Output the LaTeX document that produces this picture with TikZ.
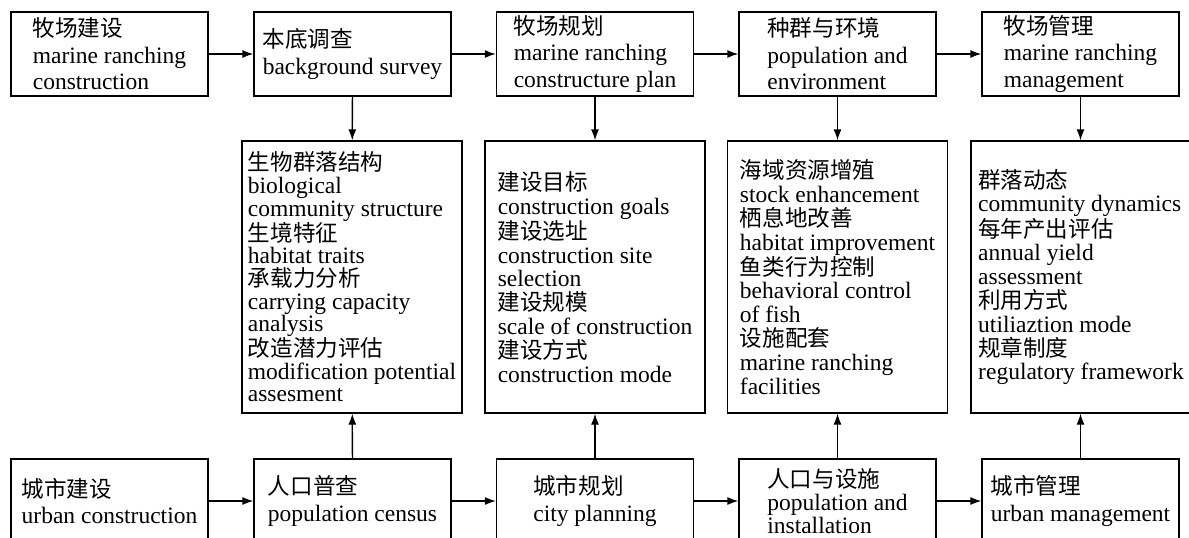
\documentclass[tikz,border=0pt]{standalone}
\usepackage{fontspec}
\setmainfont{Liberation Serif}
\newfontfamily\cjk[Scale=0.96]{Noto Sans CJK SC}
\usetikzlibrary{arrows.meta}
\tikzset{
  hbox/.style={draw, line width=1.3pt, minimum width=197pt, minimum height=84pt, inner sep=0pt, align=left, font=\fontsize{23.5}{26.5}\selectfont},
  vbox/.style={draw, line width=1.3pt, minimum width=220pt, minimum height=272pt, inner sep=0pt, align=left, font=\fontsize{23.5}{23.8}\selectfont},
  arr/.style={-{Latex[length=11pt,width=8pt]}, line width=1.3pt}
}
\begin{document}
\begin{tikzpicture}[x=1pt,y=-1pt]
\useasboundingbox (0,0) rectangle (1189,538);
\clip (0,0) rectangle (1189,538);
% top row
\node[hbox] (t1) at (109.5,54) {{\cjk 牧场建设}\\marine ranching\\construction};
\node[hbox] (t2) at (352.5,54) {{\cjk 本底调查}\\background survey};
\node[hbox] (t3) at (595,54) {{\cjk 牧场规划}\\marine ranching\\constructure plan};
\node[hbox] (t4) at (837.5,54) {{\cjk 种群与环境}\\population and\\environment};
\node[hbox] (t5) at (1080.5,54) {{\cjk 牧场管理}\\marine ranching\\management};
% middle row
\node[vbox, font=\fontsize{23.5}{22.6}\selectfont] (m1) at (352,277) {{\cjk 生物群落结构}\\biological\\community structure\\{\cjk 生境特征}\\habitat traits\\{\cjk 承载力分析}\\carrying capacity\\analysis\\{\cjk 改造潜力评估}\\modification potential\\assesment};
\node[vbox] (m2) at (595,277) {{\cjk 建设目标}\\construction goals\\{\cjk 建设选址}\\construction site\\selection\\{\cjk 建设规模}\\scale of construction\\{\cjk 建设方式}\\construction mode};
\node[vbox] (m3) at (837.5,277) {{\cjk 海域资源增殖}\\stock enhancement\\{\cjk 栖息地改善}\\habitat improvement\\{\cjk 鱼类行为控制}\\behavioral control\\of fish\\{\cjk 设施配套}\\marine ranching\\facilities};
\node[vbox] (m4) at (1081,277) {{\cjk 群落动态}\\community dynamics\\{\cjk 每年产出评估}\\annual yield\\assessment\\{\cjk 利用方式}\\utiliaztion mode\\{\cjk 规章制度}\\regulatory framework};
% bottom row
\node[hbox] (b1) at (109.5,501) {{\cjk 城市建设}\\urban construction};
\node[hbox] (b2) at (352.5,501) {{\cjk 人口普查}\\population census};
\node[hbox] (b3) at (595,501) {{\cjk 城市规划}\\city planning};
\node[hbox, font=\fontsize{23.5}{23}\selectfont] (b4) at (837.5,501) {{\cjk 人口与设施}\\population and\\installation};
\node[hbox] (b5) at (1080.5,501) {{\cjk 城市管理}\\urban management};
% arrows
\draw[arr] (t1) -- (t2);
\draw[arr] (t2) -- (t3);
\draw[arr] (t3) -- (t4);
\draw[arr] (t4) -- (t5);
\draw[arr] (b1) -- (b2);
\draw[arr] (b2) -- (b3);
\draw[arr] (b3) -- (b4);
\draw[arr] (b4) -- (b5);
\draw[arr] (t2) -- (m1);
\draw[arr] (t3) -- (m2);
\draw[arr] (t4) -- (m3);
\draw[arr] (t5.south) -- (m4.north -| t5.south);
\draw[arr] (b2) -- (m1);
\draw[arr] (b3) -- (m2);
\draw[arr] (b4) -- (m3);
\draw[arr] (b5.north) -- (m4.south -| b5.north);
\end{tikzpicture}
\end{document}
